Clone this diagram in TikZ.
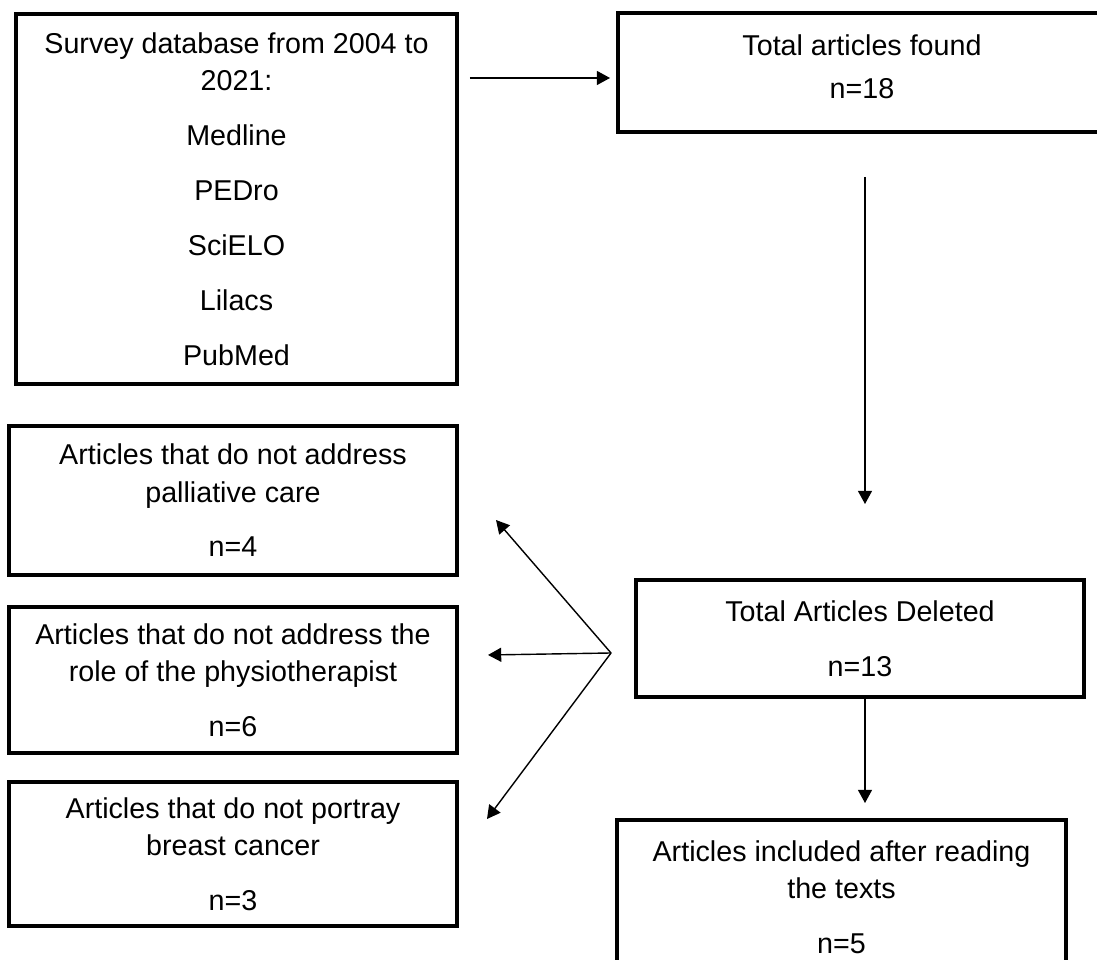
\documentclass[tikz,border=0pt]{standalone}
\usepackage{fontspec}
\setmainfont{Liberation Sans}
\usetikzlibrary{arrows.meta}

\begin{document}
\begin{tikzpicture}[
  box/.style={draw, line width=2.8pt, rectangle, align=center, inner sep=0pt,
    font=\fontsize{20.4}{26.6}\selectfont},
  arr/.style={-{Triangle[length=0.33cm,width=0.35cm]}, line width=1pt}
]
\useasboundingbox (0,0) rectangle (27.425,24);

\node[box, minimum width=11.025cm, minimum height=9.25cm] (db) at (5.9125,19.025)
  {Survey database from 2004 to\\2021:\\[12.4pt]Medline\\[12.4pt]PEDro\\[12.4pt]SciELO\\[12.4pt]Lilacs\\[12.4pt]PubMed};
\node[box, minimum width=12.2cm, minimum height=2.975cm] (found) at (21.55,22.1875)
  {Total articles found\\[4pt]n=18\rule[-8.5pt]{0pt}{0pt}};
\node[box, minimum width=11.2cm, minimum height=2.925cm] (del) at (21.5,8.0375)
  {Total Articles Deleted\\[12.4pt]n=13};
\node[box, minimum width=11.225cm, minimum height=3.85cm] (incl) at (21.0375,1.575)
  {Articles included after reading\\the texts\\[12.4pt]n=5};
\node[box, minimum width=11.2cm, minimum height=3.725cm] (pal) at (5.825,11.4875)
  {Articles that do not address\\palliative care\\[12.4pt]n=4};
\node[box, minimum width=11.2cm, minimum height=3.65cm] (phy) at (5.825,7.0)
  {Articles that do not address the\\role of the physiotherapist\\[12.4pt]n=6};
\node[box, minimum width=11.2cm, minimum height=3.6cm] (bc) at (5.825,2.65)
  {Articles that do not portray\\breast cancer\\[12.4pt]n=3};

\coordinate (row) at (0,22.05);
\coordinate (col) at (21.625,0);
\coordinate (fan) at (15.275,7.675);
\coordinate (t1) at (12.4,11.0);
\coordinate (t2) at (12.2,7.625);
\coordinate (t3) at (12.175,3.525);

\draw[arr, shorten <=0.275cm, shorten >=0.15cm] (db.east |- row) -- (found.west |- row);
\draw[arr, shorten <=1.075cm, shorten >=1.85cm] (found.south -| col) -- (del.north -| col);
\draw[arr, shorten >=0.375cm] (del.south -| col) -- (incl.north -| col);
\draw[arr] (fan) -- (t1);
\draw[arr] (fan) -- (t2);
\draw[arr] (fan) -- (t3);
\end{tikzpicture}
\end{document}
